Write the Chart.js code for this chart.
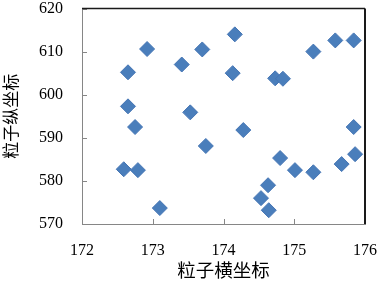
<!DOCTYPE html>
<html>
<head>
<meta charset="utf-8">
<script src="https://cdn.jsdelivr.net/npm/chart.js@4"></script>
<style>
html,body{margin:0;padding:0;background:#fff;}
#wrap{width:378px;height:282px;}
</style>
</head>
<body>
<div id="wrap"><canvas id="c" width="378" height="282"></canvas></div>
<script>
const xValues = [172.65,172.92,172.65,172.75,172.59,172.79,173.10,173.41,173.70,173.53,173.75,174.16,174.13,174.28,174.73,174.84,175.27,175.58,175.84,175.84,175.86,175.67,175.27,175.01,174.80,174.63,174.53,174.64];
const yValues = [605.2,610.6,597.3,592.5,582.7,582.5,573.7,607.0,610.5,595.9,588.1,614.0,605.0,591.8,603.8,603.7,610.0,612.6,612.6,592.5,586.2,583.9,582.0,582.5,585.3,579.0,576.0,573.2];
const xTicks = [172,173,174,175,176];
const yTicks = [570,580,590,600,610,620];
const xTitle = '粒子横坐标';
const yTitle = '粒子纵坐标';

const points = xValues.map((x,i)=>({x:x,y:yValues[i]}));

const frame = {
  id:'frame',
  afterDatasetsDraw(chart){
    const ctx = chart.ctx, a = chart.chartArea;
    const xs = chart.scales.x, ys = chart.scales.y;
    ctx.save();
    ctx.strokeStyle = '#868686';
    ctx.lineWidth = 1;
    ctx.beginPath();
    yTicks.forEach(v=>{
      const py = Math.round(ys.getPixelForValue(v))+0.5;
      ctx.moveTo(a.left, py); ctx.lineTo(a.left+5, py);
    });
    xTicks.forEach(v=>{
      const px = Math.round(xs.getPixelForValue(v))+0.5;
      ctx.moveTo(px, a.bottom); ctx.lineTo(px, a.bottom-5);
    });
    ctx.stroke();
    ctx.strokeStyle = '#1a1a1a';
    ctx.lineWidth = 1.5;
    ctx.beginPath();
    ctx.moveTo(a.left, a.top); ctx.lineTo(a.right, a.top);
    ctx.stroke();
    ctx.lineWidth = 2;
    ctx.beginPath();
    ctx.moveTo(a.right, a.top); ctx.lineTo(a.right, a.bottom);
    ctx.stroke();
    ctx.restore();
  }
};

function zeroPad(s){s.paddingTop=0;s.paddingBottom=0;s.paddingLeft=0;s.paddingRight=0;}

new Chart(document.getElementById('c'), {
  type:'scatter',
  data:{datasets:[{
    data:points,
    pointStyle:'rectRot',
    pointRadius:7.5,
    pointHoverRadius:7.5,
    backgroundColor:'#4a7ebb',
    borderColor:'#4575b4',
    borderWidth:1
  }]},
  options:{
    responsive:false,
    animation:false,
    devicePixelRatio:1,
    layout:{padding:{top:8,right:13,left:0,bottom:0}},
    plugins:{legend:{display:false},tooltip:{enabled:false}},
    scales:{
      x:{
        type:'linear',min:172,max:176,
        afterBuildTicks(s){s.ticks = xTicks.map(v=>({value:v}));},
        afterFit(s){s.height = 58; zeroPad(s);},
        grid:{display:true,drawOnChartArea:false,drawTicks:false},
        border:{display:true,color:'#868686',width:1},
        ticks:{padding:19,color:'#000',font:{family:'Liberation Serif',size:16,lineHeight:1},maxRotation:0,autoSkip:false},
        title:{display:true,text:xTitle,color:'#000',font:{family:'Noto Sans CJK SC',size:18.5,lineHeight:1.2},padding:{top:0,bottom:1}}
      },
      y:{
        type:'linear',min:570,max:620,
        afterBuildTicks(s){s.ticks = yTicks.map(v=>({value:v}));},
        afterFit(s){s.width = 82; zeroPad(s);},
        grid:{display:true,drawOnChartArea:false,drawTicks:false},
        border:{display:true,color:'#868686',width:1},
        ticks:{padding:19,color:'#000',font:{family:'Liberation Serif',size:16,lineHeight:1},autoSkip:false},
        title:{display:true,text:yTitle,color:'#000',font:{family:'Noto Sans CJK SC',size:17,lineHeight:1.2},padding:{top:0,bottom:0}}
      }
    }
  },
  plugins:[frame]
});
</script>
</body>
</html>
